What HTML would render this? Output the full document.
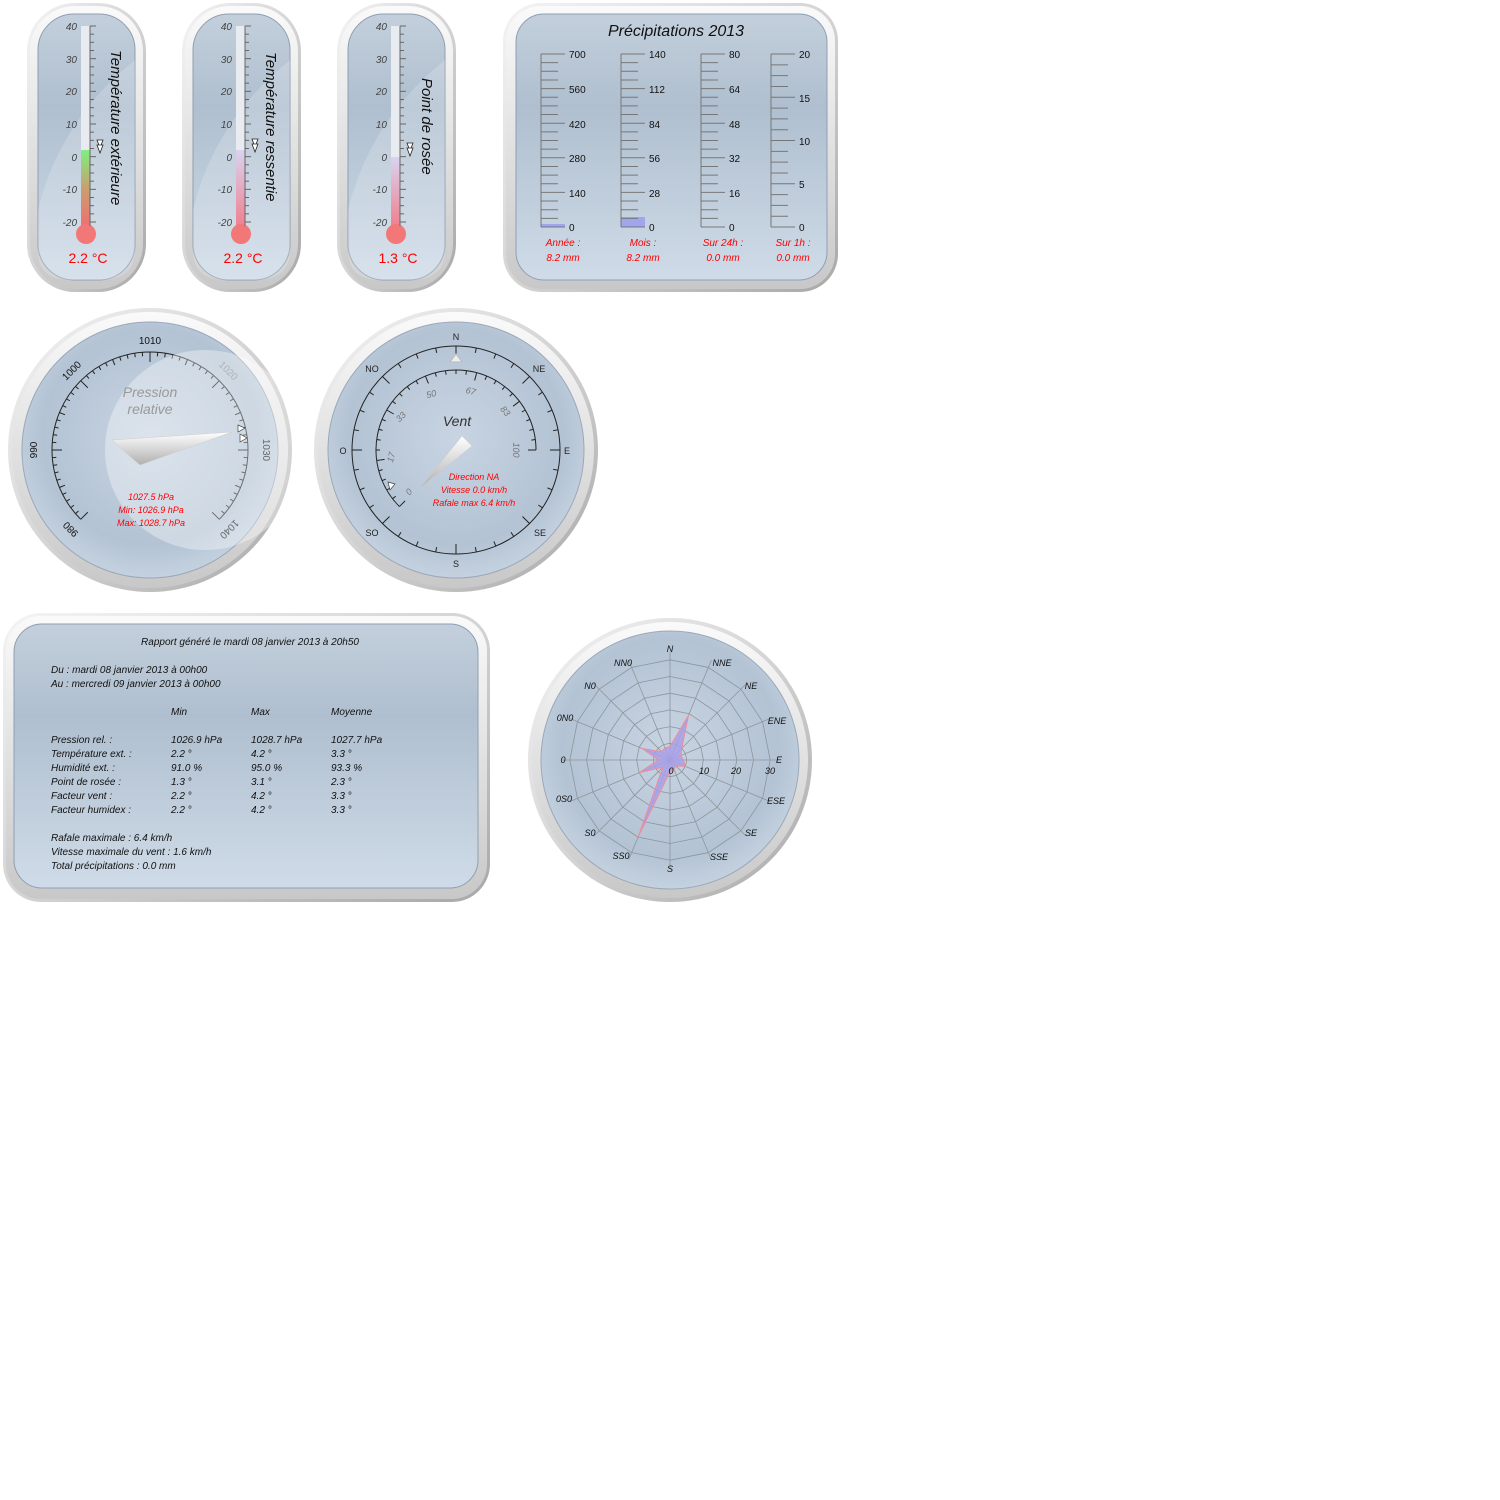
<!DOCTYPE html>
<html><head><meta charset="utf-8">
<style>
html,body{margin:0;padding:0;background:#fff;}
svg{display:block;}
text{font-family:"Liberation Sans",sans-serif;}
</style></head><body>
<svg id="s" width="1500" height="1500" viewBox="0 0 1500 1500" xmlns="http://www.w3.org/2000/svg">
<defs>
<linearGradient id="bez" x1="0" y1="0" x2="1" y2="1">
<stop offset="0" stop-color="#f4f4f4"/><stop offset="0.5" stop-color="#d4d4d4"/><stop offset="1" stop-color="#a8a8a8"/></linearGradient>
<linearGradient id="bez2" x1="0" y1="0" x2="0" y2="1">
<stop offset="0" stop-color="#fafafa"/><stop offset="1" stop-color="#c8c8c8"/></linearGradient>
<linearGradient id="face" x1="0" y1="0" x2="0" y2="1">
<stop offset="0" stop-color="#c3cfdc"/><stop offset="0.35" stop-color="#afbfcf"/><stop offset="1" stop-color="#cfdbe8"/></linearGradient>
<radialGradient id="rface" cx="0.5" cy="0.45" r="0.6">
<stop offset="0" stop-color="#c8d4e2"/><stop offset="0.7" stop-color="#b3c3d4"/><stop offset="1" stop-color="#cbd7e4"/></radialGradient>
<linearGradient id="temp1" x1="0" y1="0" x2="0" y2="1">
<stop offset="0" stop-color="#7ef07e"/><stop offset="0.5" stop-color="#c8a070"/><stop offset="1" stop-color="#f07070"/></linearGradient>
<linearGradient id="temp2" x1="0" y1="0" x2="0" y2="1">
<stop offset="0" stop-color="#d8d4f0"/><stop offset="1" stop-color="#f08090"/></linearGradient>
<linearGradient id="needle" x1="0" y1="0" x2="0" y2="1">
<stop offset="0" stop-color="#ffffff"/><stop offset="1" stop-color="#b0b0b0"/></linearGradient>
</defs>

<g id="th">
<g transform="translate(0,0)">
<rect x="27" y="3" width="119" height="289" rx="48" fill="url(#bez)"/>
<rect x="30" y="6" width="113" height="283" rx="45" fill="url(#bez2)"/>
<rect x="38" y="14" width="97" height="266" rx="36" fill="url(#face)" stroke="#8f9fb0" stroke-width="1"/>
<path d="M38 210 Q60 120 135 60 L135 250 Q135 280 100 280 L70 280 Q38 280 38 250Z" fill="#fff" opacity="0.18"/>
</g>
<g transform="translate(155,0)">
<rect x="27" y="3" width="119" height="289" rx="48" fill="url(#bez)"/>
<rect x="30" y="6" width="113" height="283" rx="45" fill="url(#bez2)"/>
<rect x="38" y="14" width="97" height="266" rx="36" fill="url(#face)" stroke="#8f9fb0" stroke-width="1"/>
<path d="M38 210 Q60 120 135 60 L135 250 Q135 280 100 280 L70 280 Q38 280 38 250Z" fill="#fff" opacity="0.18"/>
</g>
<g transform="translate(310,0)">
<rect x="27" y="3" width="119" height="289" rx="48" fill="url(#bez)"/>
<rect x="30" y="6" width="113" height="283" rx="45" fill="url(#bez2)"/>
<rect x="38" y="14" width="97" height="266" rx="36" fill="url(#face)" stroke="#8f9fb0" stroke-width="1"/>
<path d="M38 210 Q60 120 135 60 L135 250 Q135 280 100 280 L70 280 Q38 280 38 250Z" fill="#fff" opacity="0.18"/>
</g>
</g>
<rect x="81" y="26" width="9" height="200" fill="#e8ecf0"/>
<rect x="81" y="150" width="9" height="76" fill="url(#temp1)"/>
<circle cx="86" cy="234" r="10" fill="#f27878"/>
<rect x="236" y="26" width="9" height="200" fill="#e8ecf0"/>
<rect x="236" y="150" width="9" height="76" fill="url(#temp2)"/>
<circle cx="241" cy="234" r="10" fill="#f27878"/>
<rect x="391" y="26" width="9" height="200" fill="#e8ecf0"/>
<rect x="391" y="157" width="9" height="69" fill="url(#temp2)"/>
<circle cx="396" cy="234" r="10" fill="#f27878"/>
<g id="thticks" stroke="#666" stroke-width="1"></g>
<g font-size="10" fill="#444" text-anchor="end" font-style="italic">
<text x="77" y="30">40</text><text x="77" y="63">30</text><text x="77" y="95">20</text><text x="77" y="128">10</text><text x="77" y="161">0</text><text x="77" y="193">-10</text><text x="77" y="226">-20</text>
<text x="232" y="30">40</text><text x="232" y="63">30</text><text x="232" y="95">20</text><text x="232" y="128">10</text><text x="232" y="161">0</text><text x="232" y="193">-10</text><text x="232" y="226">-20</text>
<text x="387" y="30">40</text><text x="387" y="63">30</text><text x="387" y="95">20</text><text x="387" y="128">10</text><text x="387" y="161">0</text><text x="387" y="193">-10</text><text x="387" y="226">-20</text>
</g>
<g fill="#fff" stroke="#222" stroke-width="0.8">
<path d="M96 141 L104 144 L96 147Z" transform="rotate(90 100 144)"/><path d="M96 146 L104 149 L96 152Z" transform="rotate(90 100 149)"/>
<path d="M251 140 L259 143 L251 146Z" transform="rotate(90 255 143)"/><path d="M251 145 L259 148 L251 151Z" transform="rotate(90 255 148)"/>
<path d="M406 144 L414 147 L406 150Z" transform="rotate(90 410 147)"/><path d="M406 149 L414 152 L406 155Z" transform="rotate(90 410 152)"/>
</g>
<g font-size="15" fill="#111" font-style="italic">
<text transform="translate(111,50) rotate(90)">Température extérieure</text>
<text transform="translate(266,52) rotate(90)">Température ressentie</text>
<text transform="translate(422,78) rotate(90)">Point de rosée</text>
</g>
<g font-size="14" fill="#f00" text-anchor="middle">
<text x="88" y="263">2.2 °C</text><text x="243" y="263">2.2 °C</text><text x="398" y="263">1.3 °C</text>
</g>

<rect x="503" y="3" width="335" height="289" rx="38" fill="url(#bez)"/>
<rect x="506" y="6" width="329" height="283" rx="35" fill="url(#bez2)"/>
<rect x="516" y="14" width="311" height="266" rx="28" fill="url(#face)" stroke="#8f9fb0"/>
<text x="676" y="36" font-size="16" font-style="italic" text-anchor="middle" fill="#111">Précipitations 2013</text>
<rect x="541" y="224" width="24" height="3" fill="#9fa6ec"/>
<rect x="621" y="217" width="24" height="10" fill="#9fa6ec"/>
<g id="pticks" stroke="#777" stroke-width="1"></g>
<g font-size="10" fill="#111">
<text x="569" y="58">700</text><text x="569" y="93">560</text><text x="569" y="128">420</text><text x="569" y="162">280</text><text x="569" y="197">140</text><text x="569" y="231">0</text>
<text x="649" y="58">140</text><text x="649" y="93">112</text><text x="649" y="128">84</text><text x="649" y="162">56</text><text x="649" y="197">28</text><text x="649" y="231">0</text>
<text x="729" y="58">80</text><text x="729" y="93">64</text><text x="729" y="128">48</text><text x="729" y="162">32</text><text x="729" y="197">16</text><text x="729" y="231">0</text>
<text x="799" y="58">20</text><text x="799" y="102">15</text><text x="799" y="145">10</text><text x="799" y="188">5</text><text x="799" y="231">0</text>
</g>
<g font-size="10" fill="#f00" font-style="italic" text-anchor="middle">
<text x="563" y="246">Année :</text><text x="563" y="261">8.2 mm</text>
<text x="643" y="246">Mois :</text><text x="643" y="261">8.2 mm</text>
<text x="723" y="246">Sur 24h :</text><text x="723" y="261">0.0 mm</text>
<text x="793" y="246">Sur 1h :</text><text x="793" y="261">0.0 mm</text>
</g>

<circle cx="150" cy="450" r="142" fill="url(#bez)"/>
<circle cx="150" cy="450" r="138" fill="url(#bez2)"/>
<circle cx="150" cy="450" r="128" fill="url(#rface)" stroke="#9aa8b8"/>
<path id="parc" fill="none" stroke="#222" stroke-width="1"/>
<g id="ptk" stroke="#222" stroke-width="1"></g>
<g font-size="10" fill="#111" text-anchor="middle">
<text x="150" y="344">1010</text>
<text transform="translate(74,373) rotate(-45)">1000</text>
<text transform="translate(37,450) rotate(-90)">990</text>
<text transform="translate(73,527) rotate(-135)">980</text>
<text transform="translate(226,373) rotate(45)" fill="#888">1020</text>
<text transform="translate(263,450) rotate(90)">1030</text>
<text transform="translate(227,527) rotate(135)">1040</text>
</g>
<circle cx="205" cy="450" r="100" fill="#fff" opacity="0.35"/>
<text x="150" y="397" font-size="14" fill="#999" font-style="italic" text-anchor="middle">Pression</text>
<text x="150" y="414" font-size="14" fill="#999" font-style="italic" text-anchor="middle">relative</text>
<path d="M112 440 L232 432 L140 465 Q128 455 112 440Z" fill="url(#needle)" stroke="#ccc" stroke-width="0.5"/>
<g fill="#fff" stroke="#444" stroke-width="0.7">
<path d="M238 425 L245 428 L238 432Z"/><path d="M240 434 L247 438 L240 442Z"/>
</g>
<g font-size="9" fill="#f00" font-style="italic" text-anchor="middle">
<text x="151" y="500">1027.5 hPa</text><text x="151" y="513">Min: 1026.9 hPa</text><text x="151" y="526">Max: 1028.7 hPa</text>
</g>

<circle cx="456" cy="450" r="142" fill="url(#bez)"/>
<circle cx="456" cy="450" r="138" fill="url(#bez2)"/>
<circle cx="456" cy="450" r="128" fill="url(#rface)" stroke="#9aa8b8"/>
<circle cx="456" cy="450" r="104" fill="none" stroke="#222" stroke-width="1"/>
<g id="wtk" stroke="#222" stroke-width="1"></g>
<path id="warc" fill="none" stroke="#222" stroke-width="1"/>
<path d="M450 362 L456 354 L462 362Z" fill="#eee" stroke="#bbb"/>
<g font-size="9" fill="#222" text-anchor="middle">
<text x="456" y="340">N</text><text x="539" y="372">NE</text><text x="567" y="454">E</text><text x="540" y="536">SE</text>
<text x="456" y="567">S</text><text x="372" y="536">SO</text><text x="343" y="454">O</text><text x="372" y="372">NO</text>
</g>
<g font-size="9" fill="#777" font-style="italic" text-anchor="middle">
<text transform="translate(411,494) rotate(-45)">0</text>
<text transform="translate(394,458) rotate(-75)">17</text>
<text transform="translate(403,419) rotate(-45)">33</text>
<text transform="translate(432,397) rotate(-15)">50</text>
<text transform="translate(470,394) rotate(15)">67</text>
<text transform="translate(503,413) rotate(50)">83</text>
<text transform="translate(513,450) rotate(90)">100</text>
</g>
<text x="457" y="426" font-size="14" fill="#333" font-style="italic" text-anchor="middle">Vent</text>
<path d="M420 488 L462 436 L472 446Z" fill="url(#needle)" stroke="#ccc" stroke-width="0.5"/>
<path d="M388 482 L395 484 L390 490Z" fill="#fff" stroke="#444" stroke-width="0.7"/>
<g font-size="9" fill="#f00" font-style="italic" text-anchor="middle">
<text x="474" y="480">Direction NA</text><text x="474" y="493">Vitesse 0.0 km/h</text><text x="474" y="506">Rafale max 6.4 km/h</text>
</g>

<rect x="3" y="613" width="487" height="289" rx="38" fill="url(#bez)"/>
<rect x="6" y="616" width="481" height="283" rx="35" fill="url(#bez2)"/>
<rect x="14" y="624" width="464" height="264" rx="28" fill="url(#face)" stroke="#8f9fb0"/>
<g font-size="10" fill="#111" font-style="italic">
<text x="250" y="645" text-anchor="middle">Rapport généré le mardi 08 janvier 2013 à 20h50</text>
<text x="51" y="673">Du : mardi 08 janvier 2013 à 00h00</text>
<text x="51" y="687">Au : mercredi 09 janvier 2013 à 00h00</text>
<text x="171" y="715">Min</text><text x="251" y="715">Max</text><text x="331" y="715">Moyenne</text>
<text x="51" y="743">Pression rel. :</text><text x="171" y="743">1026.9 hPa</text><text x="251" y="743">1028.7 hPa</text><text x="331" y="743">1027.7 hPa</text>
<text x="51" y="757">Température ext. :</text><text x="171" y="757">2.2 °</text><text x="251" y="757">4.2 °</text><text x="331" y="757">3.3 °</text>
<text x="51" y="771">Humidité ext. :</text><text x="171" y="771">91.0 %</text><text x="251" y="771">95.0 %</text><text x="331" y="771">93.3 %</text>
<text x="51" y="785">Point de rosée :</text><text x="171" y="785">1.3 °</text><text x="251" y="785">3.1 °</text><text x="331" y="785">2.3 °</text>
<text x="51" y="799">Facteur vent :</text><text x="171" y="799">2.2 °</text><text x="251" y="799">4.2 °</text><text x="331" y="799">3.3 °</text>
<text x="51" y="813">Facteur humidex :</text><text x="171" y="813">2.2 °</text><text x="251" y="813">4.2 °</text><text x="331" y="813">3.3 °</text>
<text x="51" y="841">Rafale maximale : 6.4 km/h</text>
<text x="51" y="855">Vitesse maximale du vent : 1.6 km/h</text>
<text x="51" y="869">Total précipitations : 0.0 mm</text>
</g>

<circle cx="670" cy="760" r="142" fill="url(#bez)"/>
<circle cx="670" cy="760" r="138" fill="url(#bez2)"/>
<circle cx="670" cy="760" r="129" fill="url(#rface)" stroke="#9aa8b8"/>
<g id="rgrid" fill="none" stroke="#8e959c" stroke-width="0.8"></g>
<polygon id="rdata" fill="#a8a0e8" fill-opacity="0.85" stroke="#f08c9a" stroke-width="1"/>
<g font-size="9" fill="#111" font-style="italic" text-anchor="middle">
<text x="670" y="652">N</text><text x="722" y="666">NNE</text><text x="751" y="689">NE</text><text x="777" y="724">ENE</text>
<text x="779" y="763">E</text><text x="776" y="804">ESE</text><text x="751" y="836">SE</text><text x="719" y="860">SSE</text>
<text x="670" y="872">S</text><text x="621" y="859">SS0</text><text x="590" y="836">S0</text><text x="564" y="802">0S0</text>
<text x="563" y="763">0</text><text x="565" y="721">0N0</text><text x="590" y="689">N0</text><text x="623" y="666">NN0</text>
<text x="671" y="774">0</text><text x="704" y="774">10</text><text x="736" y="774">20</text><text x="770" y="774">30</text>
</g>
</svg>
<script>
var NS="http://www.w3.org/2000/svg";
function L(g,x1,y1,x2,y2){var l=document.createElementNS(NS,"line");l.setAttribute("x1",x1);l.setAttribute("y1",y1);l.setAttribute("x2",x2);l.setAttribute("y2",y2);g.appendChild(l);}
var g=document.getElementById("thticks");
[90,245,400].forEach(function(x){L(g,x,26,x,226);for(var i=0;i<=24;i++){var y=26+i*196/24;L(g,x,y,x+(i%4==0?6:4),y);}});
var p=document.getElementById("pticks");
[[541,20,4],[621,20,4],[701,20,4],[771,16,4]].forEach(function(c){var x=c[0];L(p,x,54,x,227);for(var i=0;i<=c[1];i++){var y=54+i*173/c[1];var maj=i%c[2]==0;L(p,x,y,x+(maj?24:17),y);}});
var cx=150,cy=450,r=98;
function pt(cx,cy,r,a){a=a*Math.PI/180;return [cx+r*Math.sin(a),cy-r*Math.cos(a)];}
var a1=pt(cx,cy,r,-135),a2=pt(cx,cy,r,135);
document.getElementById("parc").setAttribute("d","M"+a1+" A"+r+" "+r+" 0 1 1 "+a2);
var t=document.getElementById("ptk");
for(var i=0;i<=60;i++){var a=-135+i*4.5;var len=i%10==0?10:(i%5==0?6:4);var q1=pt(cx,cy,r,a),q2=pt(cx,cy,r-len,a);L(t,q1[0],q1[1],q2[0],q2[1]);}
var w=document.getElementById("wtk");
for(var i=0;i<32;i++){var a=i*11.25;var len=i%4==0?10:5;var q1=pt(456,450,104,a),q2=pt(456,450,104-len,a);L(w,q1[0],q1[1],q2[0],q2[1]);}
var b1=pt(456,450,80,-135),b2=pt(456,450,80,90);
document.getElementById("warc").setAttribute("d","M"+b1+" A80 80 0 1 1 "+b2);
for(var i=0;i<=30;i++){var a=-135+i*7.5;var len=i%5==0?8:4;var q1=pt(456,450,80,a),q2=pt(456,450,80-len,a);L(w,q1[0],q1[1],q2[0],q2[1]);}
var rg=document.getElementById("rgrid");
for(var k=1;k<=6;k++){var pts=[];for(var i=0;i<16;i++){pts.push(pt(670,760,k*16.7,i*22.5).join(","));}var pg=document.createElementNS(NS,"polygon");pg.setAttribute("points",pts.join(" "));rg.appendChild(pg);}
for(var i=0;i<16;i++){var q=pt(670,760,108,i*22.5);L(rg,670,760,q[0],q[1]);}
var vals=[4,14.5,5,3.5,4,5,2.5,3,3.5,25,3,10,3.5,9,3.5,4];var dp=[];
for(var i=0;i<16;i++){dp.push(pt(670,760,vals[i]*3.34,i*22.5).join(","));}
document.getElementById("rdata").setAttribute("points",dp.join(" "));
</script>
</body></html>
